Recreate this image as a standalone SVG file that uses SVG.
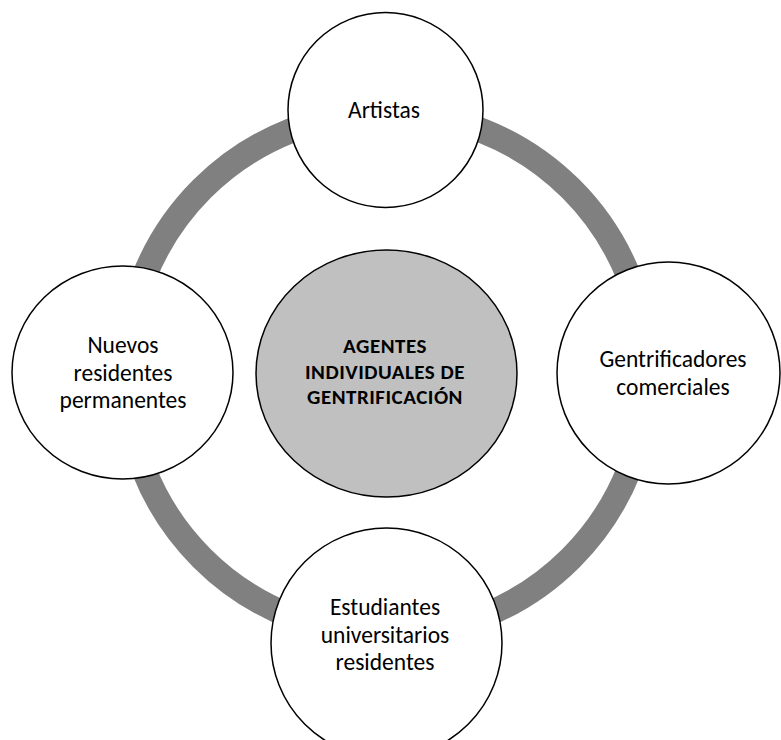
<svg xmlns="http://www.w3.org/2000/svg" width="781" height="740" viewBox="0 0 781 740">
<style>
.node{fill:#ffffff;stroke:#000000;stroke-width:1.5}
.hub{fill:#c0c0c0;stroke:#000000;stroke-width:1.5}
.ring{fill:none;stroke:#808080;stroke-width:25}
text{font-family:Carlito,Lato,"Open Sans","Liberation Sans",sans-serif;font-size:23.5px;fill:#000000;text-anchor:middle}
.b{font-weight:bold;font-size:21px;letter-spacing:0.5px}
</style>
<rect width="781" height="740" fill="#ffffff"/>
<g id="connectors">
<circle class="ring" cx="386.5" cy="373.5" r="261"/>
</g>
<g id="center">
<ellipse class="hub" cx="386.5" cy="373.5" rx="130.5" ry="123.5"/>
<text class="b" x="385" y="353">AGENTES</text>
<text class="b" x="385" y="379">INDIVIDUALES DE</text>
<text class="b" x="385" y="404">GENTRIFICACIÓN</text>
</g>
<g id="artistas">
<circle class="node" cx="385.5" cy="110" r="97.5"/>
<text x="384" y="118">Artistas</text>
</g>
<g id="nuevos">
<ellipse class="node" cx="122.5" cy="372.5" rx="110.5" ry="106.5"/>
<text x="123" y="353">Nuevos</text>
<text x="123" y="381">residentes</text>
<text x="123" y="408">permanentes</text>
</g>
<g id="gentrificadores">
<ellipse class="node" cx="668.5" cy="373" rx="111.5" ry="111"/>
<text x="673" y="367">Gentrificadores</text>
<text x="673" y="395">comerciales</text>
</g>
<g id="estudiantes">
<ellipse class="node" cx="386.5" cy="643" rx="115.5" ry="115"/>
<text x="385" y="615">Estudiantes</text>
<text x="385" y="643">universitarios</text>
<text x="385" y="670">residentes</text>
</g>
</svg>
